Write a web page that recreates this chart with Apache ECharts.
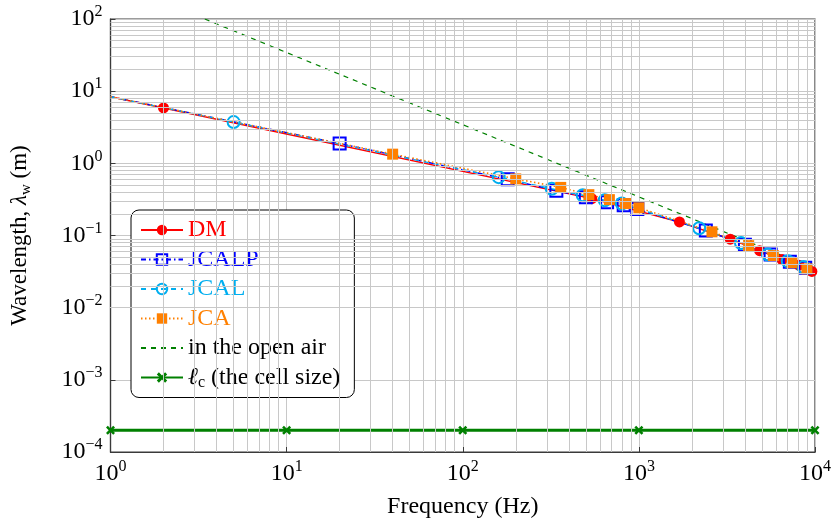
<!DOCTYPE html>
<html>
<head>
<meta charset="utf-8">
<script src="https://cdn.jsdelivr.net/npm/echarts@6/dist/echarts.min.js"></script>
<style>
  html, body { margin: 0; padding: 0; background: #fff; }
  #chart { width: 834px; height: 524px; }
</style>
</head>
<body>
<div id="chart"></div>
<script>
// values (Hz, m)
const dmFreq = [1, 2, 540, 1700, 3300, 4850, 6500, 8100, 9600];
const dmWave = [8.36, 5.85, 0.324, 0.154, 0.0889, 0.0617, 0.0464, 0.0388, 0.0318];

const jcalpFreq = [1, 20, 180, 340, 500, 660, 820, 980, 2400, 4000, 5600, 7200, 8800, 10000];
const jcalpWave = [8.36, 1.88, 0.6, 0.418, 0.339, 0.29, 0.262, 0.232, 0.117, 0.0745, 0.0545, 0.0432, 0.0356, 0.031];

const jcalFreq = [1, 5, 160, 320, 480, 640, 800, 2200, 3800, 5400, 7000, 8600, 10000];
const jcalWave = [8.36, 3.73, 0.643, 0.445, 0.361, 0.308, 0.277, 0.126, 0.0785, 0.0545, 0.0441, 0.0365, 0.031];

const jcaFreq = [1, 40, 200, 360, 520, 680, 840, 1000, 2600, 4200, 5800, 7400, 9000, 10000];
const jcaWave = [8.36, 1.34, 0.609, 0.464, 0.368, 0.314, 0.277, 0.242, 0.1125, 0.0723, 0.0527, 0.0418, 0.0345, 0.031];

const airFreq = [3.43, 10000];
const airWave = [100, 0.0343];

const cellFreq = [1, 10, 100, 1000, 10000];
const cellWave = [2e-4, 2e-4, 2e-4, 2e-4, 2e-4];

const xDecades = [0, 1, 2, 3];
const yDecades = [-4, -3, -2, -1, 0, 1];
const minorSteps = [2, 3, 4, 5, 6, 7, 8, 9];

const FONT = 'Liberation Serif';
const GRID_GRAY = '#c8c8c8';

// points on the axis limits (f = 1 Hz, 10 kHz) are line ends without a mark
function pts(freq, wave) {
  return freq.map(function (f, i) {
    const item = { value: [f, wave[i]] };
    if (f === 1 || f === 10000) item.symbol = 'none';
    return item;
  });
}

function powLabel(v) {
  const e = Math.round(Math.log10(v));
  return '{b|10}{s|' + String(e).replace('-', '\u2212') + '}';
}

const tickRich = {
  b: { fontFamily: FONT, fontSize: 24, lineHeight: 30, color: '#000' },
  s: { fontFamily: FONT, fontSize: 16, lineHeight: 16, color: '#000', verticalAlign: 'top' }
};

const minorLines = [];
xDecades.forEach(function (d) {
  minorSteps.forEach(function (m) { minorLines.push({ xAxis: m * Math.pow(10, d) }); });
});
yDecades.forEach(function (d) {
  minorSteps.forEach(function (m) { minorLines.push({ yAxis: m * Math.pow(10, d) }); });
});

// legend text must not pick up any stroke from the series line styles
const plainText = {
  textBorderWidth: 0, textBorderColor: 'transparent', textBorderType: 'solid',
  textShadowBlur: 0, textShadowColor: 'transparent'
};

function legendText(color) {
  return Object.assign({ color: color }, plainText);
}

const chart = echarts.init(document.getElementById('chart'));

const option = {
  animation: false,
  backgroundColor: '#fff',
  grid: {
    left: 110, right: 15, top: 19, bottom: 69,
    show: true, borderColor: '#3a3a3a', borderWidth: 1.2
  },
  legend: {
    orient: 'vertical',
    left: 131, top: 210,
    padding: [7, 14, 7, 9],
    itemGap: 3.5,
    itemWidth: 42,
    itemHeight: 13,
    backgroundColor: '#fff',
    borderColor: '#000',
    borderWidth: 1,
    borderRadius: 8,
    textStyle: Object.assign({
      fontFamily: FONT, fontSize: 24, lineHeight: 26, color: '#000',
      rich: {
        l: Object.assign({ fontFamily: FONT, fontStyle: 'italic', fontSize: 24, lineHeight: 26 }, plainText),
        c: Object.assign({ fontFamily: FONT, fontSize: 16, lineHeight: 16, verticalAlign: 'bottom' }, plainText)
      }
    }, plainText),
    formatter: function (name) {
      if (name === 'cell') return '{l|\u2113}{c|c} (the cell size)';
      return name;
    },
    data: [
      { name: 'DM', textStyle: legendText('#ff0000') },
      { name: 'JCALP', textStyle: legendText('#0000ff') },
      { name: 'JCAL', textStyle: legendText('#00aeef') },
      { name: 'JCA', textStyle: legendText('#ff8000') },
      { name: 'in the open air', textStyle: legendText('#000'),
        itemStyle: { color: 'rgba(0,0,0,0)', borderWidth: 0, opacity: 0 } },
      { name: 'cell', textStyle: legendText('#000') }
    ]
  },
  xAxis: {
    type: 'log', logBase: 10, min: 1, max: 10000, splitNumber: 4,
    name: 'Frequency (Hz)',
    nameLocation: 'middle', nameGap: 43,
    nameTextStyle: { fontFamily: FONT, fontSize: 24, color: '#000' },
    axisLine: { show: true, lineStyle: { color: '#3a3a3a', width: 1.2 } },
    axisTick: { show: true, inside: true, length: 5, lineStyle: { color: '#3a3a3a' } },
    axisLabel: { margin: 7, formatter: powLabel, rich: tickRich },
    splitLine: { show: true, lineStyle: { color: GRID_GRAY, width: 1 } }
  },
  yAxis: {
    type: 'log', logBase: 10, min: 1e-4, max: 100, splitNumber: 6,
    name: '{n|Wavelength, }{l|\u03bb}{w|w}{n| (m)}',
    nameLocation: 'middle', nameGap: 77,
    nameTextStyle: {
      rich: {
        n: { fontFamily: FONT, fontSize: 23, lineHeight: 28, color: '#000' },
        l: { fontFamily: FONT, fontStyle: 'italic', fontSize: 23, lineHeight: 28, color: '#000' },
        w: { fontFamily: FONT, fontSize: 15, lineHeight: 15, color: '#000', verticalAlign: 'bottom' }
      }
    },
    axisLine: { show: true, lineStyle: { color: '#3a3a3a', width: 1.2 } },
    axisTick: { show: true, inside: true, length: 5, lineStyle: { color: '#3a3a3a' } },
    axisLabel: { margin: 8, formatter: powLabel, rich: tickRich },
    splitLine: { show: true, lineStyle: { color: GRID_GRAY, width: 1 } }
  },
  series: [
    {
      name: 'minor grid', type: 'line', data: [], silent: true, z: 0,
      markLine: {
        silent: true, symbol: 'none', label: { show: false },
        lineStyle: { color: GRID_GRAY, width: 1, type: 'solid' },
        emphasis: { disabled: true },
        data: minorLines
      }
    },
    {
      name: 'DM', type: 'line', data: pts(dmFreq, dmWave),
      symbol: 'circle', symbolSize: 11,
      lineStyle: { color: '#ff0000', width: 1.4 },
      itemStyle: { color: '#ff0000' }
    },
    {
      name: 'JCALP', type: 'line', data: pts(jcalpFreq, jcalpWave),
      symbol: 'rect', symbolSize: 12,
      lineStyle: { color: '#0000ff', width: 1.4, type: [5, 3, 1.5, 3] },
      itemStyle: { color: 'rgba(255,255,255,0)', borderColor: '#0000ff', borderWidth: 2 }
    },
    {
      name: 'JCAL', type: 'line', data: pts(jcalFreq, jcalWave),
      symbol: 'circle', symbolSize: 12,
      lineStyle: { color: '#00aeef', width: 1.4, type: [5, 5] },
      itemStyle: { color: 'rgba(255,255,255,0)', borderColor: '#00aeef', borderWidth: 2 }
    },
    {
      name: 'JCA', type: 'line', data: pts(jcaFreq, jcaWave),
      symbol: 'rect', symbolSize: 11,
      lineStyle: { color: '#ff8000', width: 1.6, type: [1.5, 2.5] },
      itemStyle: { color: '#ff8000' }
    },
    {
      name: 'in the open air', type: 'line', data: pts(airFreq, airWave),
      symbol: 'none',
      lineStyle: { color: '#008000', width: 1.2, type: [5, 5] },
      itemStyle: { color: '#008000' }
    },
    {
      name: 'cell', type: 'line', data: cellFreq.map(function (f, i) { return [f, cellWave[i]]; }),
      symbol: 'path://M0,2L2,0L5,3L8,0L10,2L7,5L10,8L8,10L5,7L2,10L0,8L3,5Z',
      symbolSize: 9,
      lineStyle: { color: '#008000', width: 3 },
      itemStyle: { color: '#008000' }
    }
  ]
};

chart.setOption(option);
</script>
</body>
</html>
